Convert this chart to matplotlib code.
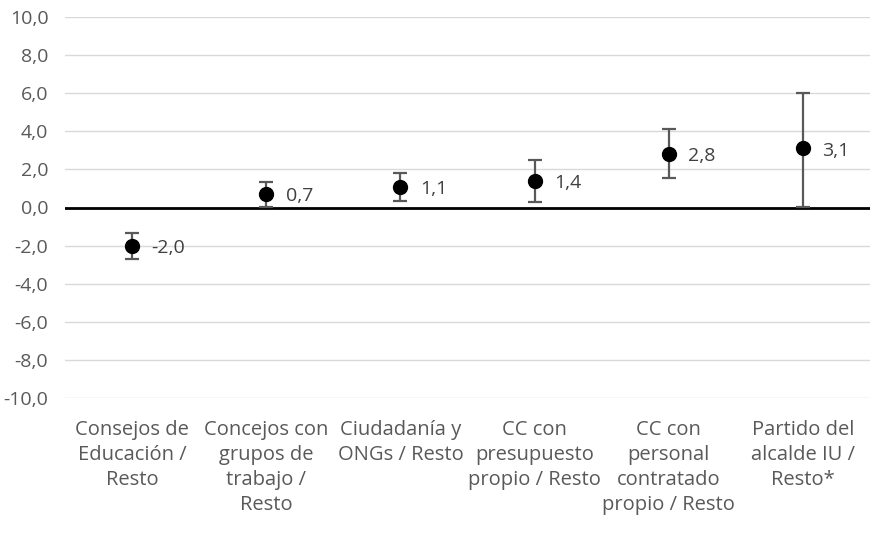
import numpy as np
import matplotlib.pyplot as plt

categories = [
    "Consejos de\nEducación /\nResto",
    "Concejos con\ngrupos de\ntrabajo /\nResto",
    "Ciudadanía y\nONGs / Resto",
    "CC con\npresupuesto\npropio / Resto",
    "CC con\npersonal\ncontratado\npropio / Resto",
    "Partido del\nalcalde IU /\nResto*",
]
values = [-2.0, 0.7, 1.1, 1.4, 2.8, 3.1]
lower = [-2.7, 0.05, 0.35, 0.3, 1.55, 0.05]
upper = [-1.35, 1.35, 1.8, 2.5, 4.1, 6.0]
value_labels = ["-2,0", "0,7", "1,1", "1,4", "2,8", "3,1"]


def main():
    plt.rcParams['font.family'] = ['Open Sans', 'DejaVu Sans']
    fig = plt.figure(figsize=(8.78, 5.33), dpi=100)
    ax = fig.add_axes([65 / 878, 1 - 398 / 533, 805 / 878, 381 / 533])

    x = np.arange(len(values))
    vals = np.array(values)
    yerr = np.vstack([vals - np.array(lower), np.array(upper) - vals])

    ax.errorbar(x, vals, yerr=yerr, fmt='o', color='black', markersize=10,
                ecolor='#595959', elinewidth=1.6, capsize=5, capthick=1.6, zorder=3)

    for xi, v, lab in zip(x, values, value_labels):
        ax.annotate(lab, (xi, v), xytext=(14, -1.5), textcoords='offset points',
                    va='center', ha='left', fontsize=14, color='#404040')

    ax.set_xlim(-0.5, len(values) - 0.5)
    ax.set_ylim(-10, 10)
    yt = np.arange(-10, 11, 2)
    ax.set_yticks(yt)
    ax.set_yticklabels([f"{v:.1f}".replace('.', ',') for v in yt], fontsize=14)
    ax.yaxis.grid(True, color='#d9d9d9', linewidth=1)
    ax.set_axisbelow(True)
    ax.axhline(0, color='black', linewidth=2, zorder=2)

    ax.set_xticks(x)
    ax.set_xticklabels(categories, linespacing=1.32, fontsize=14.5)
    ax.tick_params(axis='both', length=0, labelcolor='#595959')
    ax.tick_params(axis='x', pad=16)
    ax.tick_params(axis='y', pad=12)
    for s in ax.spines.values():
        s.set_visible(False)

    fig.savefig("out.png", dpi=100)


if __name__ == "__main__":
    main()
